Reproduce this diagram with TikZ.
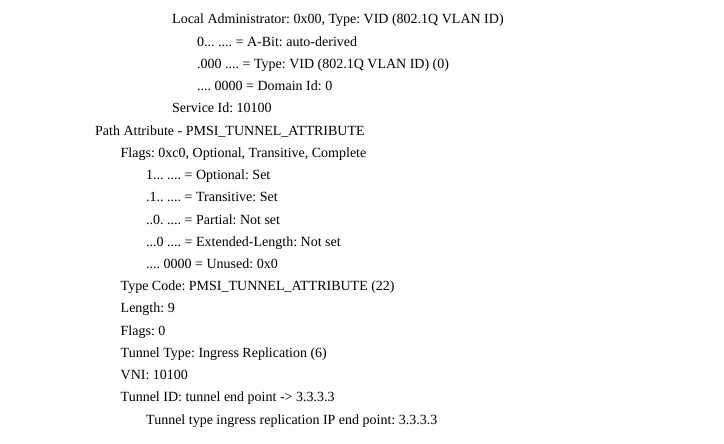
\documentclass[tikz,border=0pt]{standalone}
\usepackage{fontspec}
\setmainfont{Liberation Serif}
\usepackage{tikz}
\usetikzlibrary{positioning}
\frenchspacing

\tikzset{
  txt/.style={anchor=base west, inner sep=0pt, font=\fontsize{14}{16}\selectfont}
}

\begin{document}
\begin{tikzpicture}[x=1pt, y=-1pt]
\useasboundingbox (0,0) rectangle (724,444);

% Extended community
\node[txt] (locadm) at (172,24) {Local Administrator: 0x00, Type: VID (802.1Q VLAN ID)};
\node[txt] (abit) at (197,46.2) {0... .... = A-Bit: auto-derived};
\node[txt] (vidtype) at (197,68.4) {.000 .... = Type: VID (802.1Q VLAN ID) (0)};
\node[txt] (domid) at (197,90.7) {.... 0000 = Domain Id: 0};
\node[txt] (servid) at (172,112.9) {Service Id: 10100};

% PMSI tunnel attribute
\node[txt] (pathattr) at (95,135.1) {Path Attribute - PMSI\_TUNNEL\_ATTRIBUTE};
\node[txt] (flags) at (120.5,157.3) {Flags: 0xc0, Optional, Transitive, Complete};
\node[txt] (optional) at (146,179.6) {1... .... = Optional: Set};
\node[txt] (transitive) at (146,201.8) {.1.. .... = Transitive: Set};
\node[txt] (partial) at (146,224) {..0. .... = Partial: Not set};
\node[txt] (extlen) at (146,246.2) {...0 .... = Extended-Length: Not set};
\node[txt] (unused) at (146,268.4) {.... 0000 = Unused: 0x0};
\node[txt] (typecode) at (120.5,290.7) {Type Code: PMSI\_TUNNEL\_ATTRIBUTE (22)};
\node[txt] (length) at (120.5,312.9) {Length: 9};
\node[txt] (tflags) at (120.5,335.1) {Flags: 0};
\node[txt] (ttype) at (120.5,357.3) {Tunnel Type: Ingress Replication (6)};
\node[txt] (vni) at (120.5,379.6) {VNI: 10100};
\node[txt] (tid) at (120.5,401.8) {Tunnel ID: tunnel end point -> 3.3.3.3};
\node[txt] (endpt) at (146,424) {Tunnel type ingress replication IP end point: 3.3.3.3};
\end{tikzpicture}
\end{document}
